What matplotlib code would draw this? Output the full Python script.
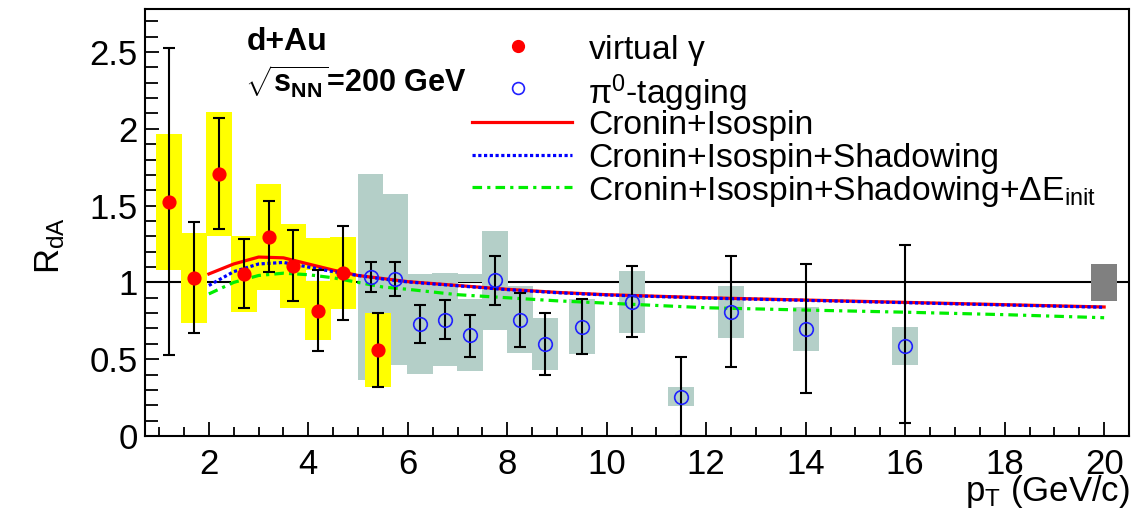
import matplotlib
matplotlib.use('Agg')
import matplotlib.pyplot as plt
from matplotlib.patches import Rectangle
import numpy as np

plt.rcParams['font.family'] = ['Liberation Sans', 'DejaVu Sans']
plt.rcParams['mathtext.fontset'] = 'custom'
plt.rcParams['mathtext.rm'] = 'Liberation Sans'
plt.rcParams['mathtext.it'] = 'Liberation Sans:italic'
plt.rcParams['mathtext.bf'] = 'Liberation Sans:bold'
plt.rcParams['mathtext.default'] = 'regular'

# ---------------- data ----------------
# virtual photon (filled red)
vg_pt = [1.2, 1.7, 2.2, 2.7, 3.2, 3.7, 4.2, 4.7, 5.4]
vg_rda = [1.525, 1.03, 1.708, 1.057, 1.296, 1.107, 0.817, 1.06, 0.56]
vg_stat = [1.0, 0.36, 0.363, 0.223, 0.231, 0.231, 0.261, 0.306, 0.242]
vg_syst = [0.444, 0.294, 0.403, 0.248, 0.347, 0.275, 0.192, 0.235, 0.243]

# pi0-tagging (open blue)
pi0_pt = [5.25, 5.75, 6.25, 6.75, 7.25, 7.75, 8.25, 8.75, 9.5, 10.5, 11.5, 12.5, 14.0, 16.0]
pi0_rda = [1.035, 1.02, 0.73, 0.758, 0.658, 1.013, 0.758, 0.60, 0.712, 0.871, 0.257, 0.806, 0.697, 0.588]
pi0_stat_lo = [0.10, 0.11, 0.124, 0.125, 0.146, 0.159, 0.178, 0.203, 0.18, 0.226, 0.257, 0.36, 0.42, 0.505]
pi0_stat_hi = [0.10, 0.11, 0.124, 0.125, 0.131, 0.157, 0.172, 0.20, 0.18, 0.234, 0.255, 0.364, 0.42, 0.658]
pi0_syst = [0.668, 0.555, 0.325, 0.30, 0.235, 0.322, 0.22, 0.17, 0.177, 0.20, 0.063, 0.17, 0.145, 0.123]

# additional systematic-band pieces visible in the figure (x, y_low, y_high)
vg_extra_x = [4.2]
vg_extra_lo = [1.078]
vg_extra_hi = [1.29]
pi0_extra_x = [7.25]
pi0_extra_lo = [1.0]
pi0_extra_hi = [1.057]

# global normalisation uncertainty box at pT = 20
norm_pt = 20.0
norm_unc = 0.118

# theory curves
th_pt = [2.0, 2.5, 3.0, 3.5, 4.0, 4.5, 5.0, 5.5, 6.0, 7.0, 8.0, 9.0, 10.0, 11.0, 12.0, 14.0, 16.0, 18.0, 20.0]
th_cronin = [1.055, 1.12, 1.165, 1.16, 1.12, 1.08, 1.045, 1.025, 1.005, 0.98, 0.955, 0.935, 0.92, 0.91, 0.90, 0.885, 0.87, 0.855, 0.84]
th_shadow = [0.98, 1.07, 1.12, 1.13, 1.10, 1.07, 1.045, 1.022, 1.003, 0.978, 0.953, 0.933, 0.918, 0.908, 0.898, 0.883, 0.868, 0.853, 0.838]
th_eloss = [0.925, 1.0, 1.045, 1.06, 1.05, 1.03, 1.0, 0.97, 0.955, 0.92, 0.90, 0.88, 0.865, 0.85, 0.835, 0.82, 0.806, 0.79, 0.77]

xticks = [2, 4, 6, 8, 10, 12, 14, 16, 18, 20]
yticks = [0, 0.5, 1, 1.5, 2, 2.5]
ytick_labels = ['0', '0.5', '1', '1.5', '2', '2.5']

# ---------------- figure ----------------
W, H = 1145, 521
fig = plt.figure(figsize=(W / 100, H / 100), dpi=100)
ax = fig.add_axes([144.7 / W, (H - 436) / H, (1129 - 144.7) / W, (436 - 9) / H])
ax.set_xlim(0.71, 20.47)
ax.set_ylim(0.0, 2.78)

YELLOW = '#FFFF00'
GRAY = '#B4CFC8'
hw = 0.26

ax.axhline(1.0, color='black', lw=1.5, zorder=1)

for x, y, s in zip(pi0_pt, pi0_rda, pi0_syst):
    ax.add_patch(Rectangle((x - hw, y - s), 2 * hw, 2 * s, facecolor=GRAY, edgecolor='none', zorder=2))
for x, lo, hi in zip(pi0_extra_x, pi0_extra_lo, pi0_extra_hi):
    ax.add_patch(Rectangle((x - hw, lo), 2 * hw, hi - lo, facecolor=GRAY, edgecolor='none', zorder=2))
for x, y, s in zip(vg_pt, vg_rda, vg_syst):
    ax.add_patch(Rectangle((x - hw, y - s), 2 * hw, 2 * s, facecolor=YELLOW, edgecolor='none', zorder=2.2))
for x, lo, hi in zip(vg_extra_x, vg_extra_lo, vg_extra_hi):
    ax.add_patch(Rectangle((x - hw, lo), 2 * hw, hi - lo, facecolor=YELLOW, edgecolor='none', zorder=2.2))
ax.add_patch(Rectangle((norm_pt - hw, 1 - norm_unc), 2 * hw, 2 * norm_unc, facecolor='#808080', edgecolor='none', zorder=2))

ax.plot(th_pt, th_cronin, color='#FF0000', lw=2.3, zorder=3)
ax.plot(th_pt, th_shadow, color='#0000FF', lw=2.3, ls=(0, (1, 0.8)), zorder=3.1)
ax.plot(th_pt, th_eloss, color='#00EE00', lw=2.3, ls=(0, (3, 1.6, 1, 1.6)), zorder=3)

ax.errorbar(vg_pt, vg_rda, yerr=vg_stat, fmt='none', ecolor='black', elinewidth=1.5,
            capsize=4, capthick=1.5, zorder=4)
ax.plot(vg_pt, vg_rda, 'o', color='#FF0000', ms=9.2, mec='#FF0000', zorder=5)
ax.errorbar(pi0_pt, pi0_rda, yerr=[pi0_stat_lo, pi0_stat_hi], fmt='none', ecolor='black',
            elinewidth=1.5, capsize=4, capthick=1.5, zorder=4)
ax.plot(pi0_pt, pi0_rda, 'o', mfc='none', mec='#2020FF', ms=9.8, mew=1.2, zorder=5)

# axes styling
for sp in ax.spines.values():
    sp.set_linewidth(1.5)
ax.set_xticks(xticks)
ax.set_xticks(np.arange(1.0, 20.51, 0.5), minor=True)
ax.set_yticks(yticks)
ax.set_yticklabels(ytick_labels)
ax.set_yticks(np.arange(0, 2.79, 0.1), minor=True)
ax.tick_params(axis='both', which='both', direction='in', top=False, right=False, width=1.3)
ax.tick_params(axis='x', which='major', length=10, labelsize=25, pad=9)
ax.tick_params(axis='x', which='minor', length=6.3)
ax.tick_params(axis='y', which='major', length=10, labelsize=25, pad=5)
ax.tick_params(axis='y', which='minor', length=9.5)

# axis titles
fig.text(1130 / W, 1 - 491 / H, r'p$_{T}$ (GeV/c)', ha='right', va='center', fontsize=25)
fig.text(50 / W, 1 - 245 / H, r'R$_{dA}$', ha='center', va='center', rotation=90, fontsize=25)

# annotations
fig.text(247 / W, 1 - 42 / H, 'd+Au', ha='left', va='center', fontsize=23, fontweight='bold')
fig.text(245 / W, 1 - 82 / H, r'$\sqrt{s_{NN}}$=200 GeV', ha='left', va='center', fontsize=22,
         fontweight='bold')

# legend (drawn manually)
tr = fig.transFigure
def fx(px):
    return px / W
def fy(py):
    return 1 - py / H

fig.lines.append(plt.Line2D([fx(518)], [fy(46)], marker='o', color='#FF0000', ms=8.5, transform=tr))
fig.lines.append(plt.Line2D([fx(518)], [fy(88)], marker='o', mfc='none', mec='#2020FF', ms=8.5,
                            mew=1.2, transform=tr))
fig.lines.append(plt.Line2D([fx(472), fx(572)], [fy(122), fy(122)], color='#FF0000', lw=2.3, transform=tr))
fig.lines.append(plt.Line2D([fx(472), fx(572)], [fy(155), fy(155)], color='#0000FF', lw=2.3,
                            ls=(0, (1, 0.8)), transform=tr))
fig.lines.append(plt.Line2D([fx(472), fx(572)], [fy(187), fy(187)], color='#00EE00', lw=2.3,
                            ls=(0, (3, 1.6, 1, 1.6)), transform=tr))
leg_labels = [r'virtual $\gamma$', r'$\pi^{0}$-tagging', 'Cronin+Isospin',
              'Cronin+Isospin+Shadowing', r'Cronin+Isospin+Shadowing+$\Delta$E$_{init}$']
leg_y = [46, 88, 122, 155, 187]
for lab, yy in zip(leg_labels, leg_y):
    fig.text(fx(588), fy(yy), lab, ha='left', va='center_baseline', fontsize=24.2)

fig.savefig('out.png', dpi=100)
